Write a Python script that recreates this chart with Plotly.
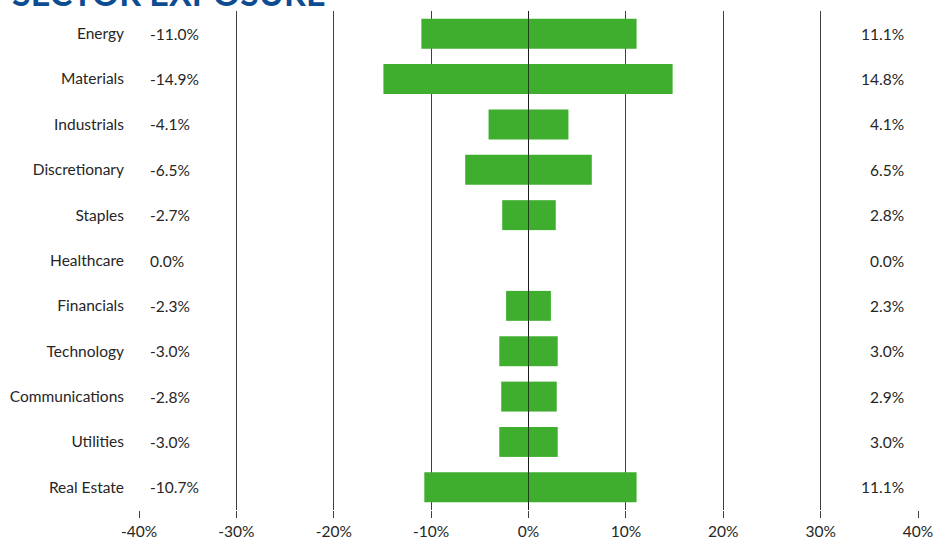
import plotly.graph_objects as go

categories = ["Energy", "Materials", "Industrials", "Discretionary", "Staples",
              "Healthcare", "Financials", "Technology", "Communications",
              "Utilities", "Real Estate"]
short_vals = [-11.0, -14.9, -4.1, -6.5, -2.7, 0.0, -2.3, -3.0, -2.8, -3.0, -10.7]
long_vals = [11.1, 14.8, 4.1, 6.5, 2.8, 0.0, 2.3, 3.0, 2.9, 3.0, 11.1]
x_ticks = [-40, -30, -20, -10, 0, 10, 20, 30, 40]
x_tick_labels = ["-40%", "-30%", "-20%", "-10%", "0%", "10%", "20%", "30%", "40%"]

GREEN = "#3FAE2F"
FONT = "Lato"
FS = 15.5

fig = go.Figure()
fig.add_trace(go.Bar(y=categories, x=short_vals, orientation="h",
                     marker=dict(color=GREEN, line=dict(width=0)),
                     width=0.66, showlegend=False, hoverinfo="x+y"))
fig.add_trace(go.Bar(y=categories, x=long_vals, orientation="h",
                     marker=dict(color=GREEN, line=dict(width=0)),
                     width=0.66, showlegend=False, hoverinfo="x+y"))

def fmt(v):
    s = f"{v:.1f}%"
    return "0.0%" if s == "-0.0%" else s

annotations = []
for c, s, l in zip(categories, short_vals, long_vals):
    annotations.append(dict(x=-40, y=c, xref="x", yref="y", text=fmt(s),
                            showarrow=False, xanchor="left", xshift=9,
                            font=dict(family=FONT, size=FS, color="#262626")))
    annotations.append(dict(x=40, y=c, xref="x", yref="y", text=fmt(l),
                            showarrow=False, xanchor="right", xshift=-12,
                            font=dict(family=FONT, size=FS, color="#262626")))

fig.update_layout(
    barmode="relative",
    width=937, height=537,
    margin=dict(l=139, r=19, t=11, b=27, autoexpand=False),
    paper_bgcolor="white", plot_bgcolor="white",
    font=dict(family=FONT, size=FS, color="#262626"),
    annotations=annotations,
    title=dict(text="<b>SECTOR EXPOSURE</b>", x=12 / 937, xanchor="left",
               xref="container",
               y=1 - 6 / 537, yanchor="bottom", yref="container",
               font=dict(family=FONT, size=34, color="#0E4C92")),
    shapes=[dict(type="line", xref="x", yref="paper", x0=0, x1=0, y0=0, y1=1,
                 line=dict(color="rgba(0,0,0,0.55)", width=1), layer="above")],
)
fig.update_xaxes(range=[-40, 40], tickvals=x_ticks, ticktext=x_tick_labels,
                 showgrid=True, gridcolor="#404040", gridwidth=1,
                 zeroline=False, ticks="outside", ticklen=7, tickcolor="#404040",
                 tickfont=dict(family=FONT, size=FS, color="#262626"),
                 showline=False, fixedrange=True, automargin=False)
fig.update_yaxes(range=[10.5, -0.5], autorange=False, showgrid=False, zeroline=False,
                 ticks="", ticklabelstandoff=14, automargin=False,
                 tickfont=dict(family=FONT, size=FS, color="#262626"),
                 showline=False)

fig.write_html("out.html")
